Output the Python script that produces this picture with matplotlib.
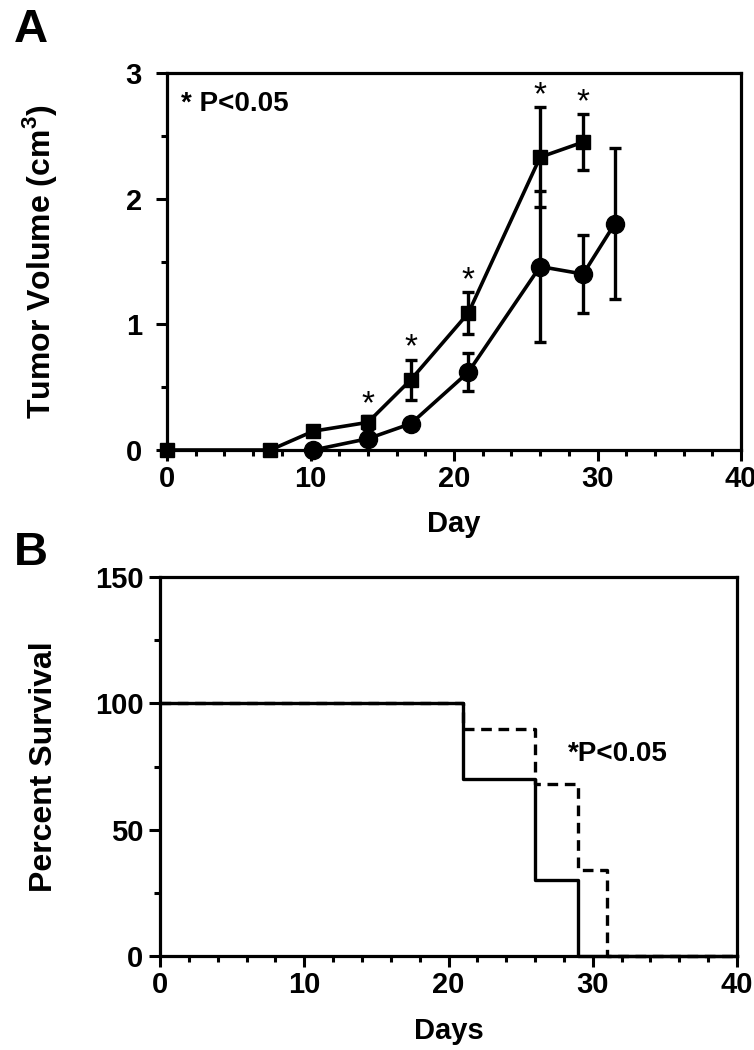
import matplotlib
matplotlib.use("Agg")
import matplotlib.pyplot as plt
from matplotlib.ticker import MultipleLocator

plt.rcParams['font.family'] = ['Liberation Sans', 'DejaVu Sans']
plt.rcParams['font.weight'] = 'bold'
plt.rcParams['mathtext.fontset'] = 'custom'
plt.rcParams['mathtext.bf'] = 'Liberation Sans:bold'
plt.rcParams['mathtext.rm'] = 'Liberation Sans:bold'

# ---- Panel A data: tumor volume (cm^3) ----
sq_days = [0, 7.2, 10.2, 14, 17, 21, 26, 29]
sq_vol = [0, 0, 0.15, 0.22, 0.56, 1.09, 2.33, 2.45]
sq_err = [0, 0, 0.03, 0.05, 0.16, 0.17, 0.40, 0.22]

ci_days = [10.2, 14, 17, 21, 26, 29, 31.2]
ci_vol = [0, 0.09, 0.21, 0.62, 1.46, 1.40, 1.80]
ci_err = [0, 0.04, 0.04, 0.15, 0.60, 0.31, 0.60]

sig_days = [14, 17, 21, 26, 29]
sig_top = [0.27, 0.72, 1.26, 2.73, 2.67]

# ---- Panel B data: percent survival ----
solid_t = [0, 21, 26, 29, 40]
solid_s = [100, 70, 30, 0, 0]
dash_t = [0, 21, 26, 29, 31, 40]
dash_s = [100, 90, 68, 34, 0, 0]

W, H = 754, 1050
fig = plt.figure(figsize=(W / 100, H / 100), dpi=100)

axA = fig.add_axes([167 / W, 1 - 450 / H, (741 - 167) / W, (450 - 73) / H])
axB = fig.add_axes([160 / W, 1 - 956 / H, (737 - 160) / W, (956 - 577) / H])

lw = 2.6
for ax in (axA, axB):
    for s in ax.spines.values():
        s.set_linewidth(2.3)
    ax.tick_params(which='major', direction='out', length=8, width=2.2,
                   labelsize=21, pad=3)
    ax.tick_params(which='minor', direction='out', length=4.5, width=2.2)
axA.tick_params(axis='y', which='major', pad=10)
axB.tick_params(axis='y', which='major', pad=4)

# Panel A
axA.errorbar(sq_days, sq_vol, yerr=sq_err, color='black', lw=lw, marker='s',
             ms=10, elinewidth=2.4, capsize=4.5, capthick=2.4, clip_on=False,
             zorder=3)
axA.errorbar(ci_days, ci_vol, yerr=ci_err, color='black', lw=lw, marker='o',
             ms=13, elinewidth=2.4, capsize=4.5, capthick=2.4, clip_on=False,
             zorder=3)
for d, t in zip(sig_days, sig_top):
    axA.annotate('*', (d, t), xytext=(0, -3), textcoords='offset points',
                 ha='center', va='bottom', fontsize=24, fontweight='normal')
axA.text(1.0, 2.75, '* P<0.05', fontsize=20, fontweight='bold', va='center',
         ha='left')
axA.set_xlim(0, 40)
axA.set_ylim(0, 3)
axA.xaxis.set_major_locator(MultipleLocator(10))
axA.xaxis.set_minor_locator(MultipleLocator(2))
axA.yaxis.set_major_locator(MultipleLocator(1))
axA.yaxis.set_minor_locator(MultipleLocator(0.5))
axA.set_xlabel('Day', fontsize=21, fontweight='bold', labelpad=12)
axA.set_ylabel('Tumor Volume (cm$^\\mathbf{3}$)', fontsize=23,
               fontweight='bold', labelpad=48)

# Panel B
axB.step(solid_t, solid_s, where='post', color='black', lw=2.4,
         clip_on=False, zorder=3)
axB.step(dash_t, dash_s, where='post', color='black', lw=2.4,
         linestyle=(0, (3.2, 2.0)), clip_on=False, zorder=2)
axB.text(28.3, 80, '*P<0.05', fontsize=20, fontweight='bold', va='center',
         ha='left')
axB.set_xlim(0, 40)
axB.set_ylim(0, 150)
axB.xaxis.set_major_locator(MultipleLocator(10))
axB.xaxis.set_minor_locator(MultipleLocator(2))
axB.yaxis.set_major_locator(MultipleLocator(50))
axB.yaxis.set_minor_locator(MultipleLocator(25))
axB.set_xlabel('Days', fontsize=21, fontweight='bold', labelpad=13)
axB.set_ylabel('Percent Survival', fontsize=23, fontweight='bold',
               labelpad=26)

fig.text(14 / W, 1 - 30 / H, 'A', fontsize=34, fontweight='bold',
         ha='left', va='center')
fig.text(14 / W, 1 - 553 / H, 'B', fontsize=34, fontweight='bold',
         ha='left', va='center')

fig.savefig('out.png', dpi=100)
